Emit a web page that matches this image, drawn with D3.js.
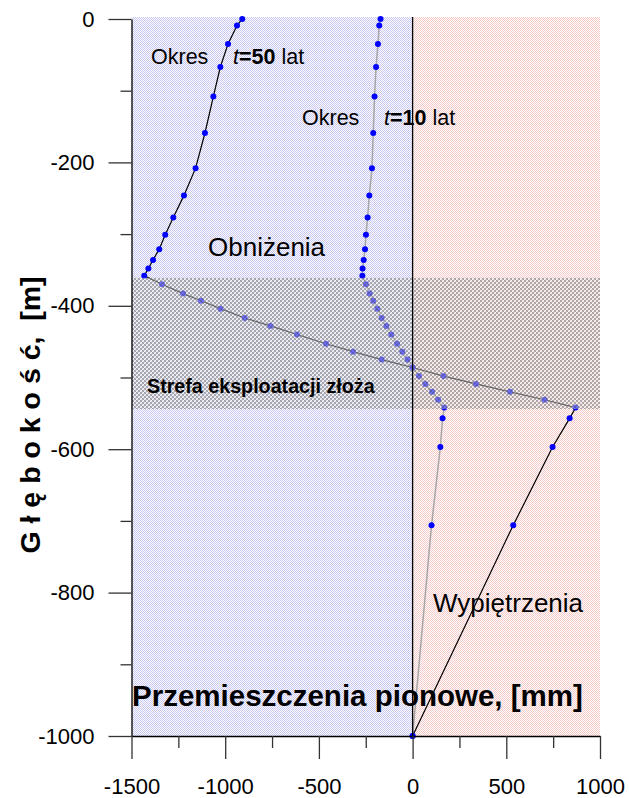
<!DOCTYPE html>
<html>
<head>
<meta charset="utf-8">
<script src="https://cdn.jsdelivr.net/npm/d3@7"></script>
<style>
  html, body { margin: 0; padding: 0; background: #fff; }
  svg { display: block; font-family: "Liberation Sans", Arial, sans-serif; }
</style>
</head>
<body>
<svg id="chart" width="629" height="798"></svg>
<script>
// Depth of the sampled levels [m]
const depth = [0, -9, -35, -67, -108, -159, -208, -246, -277, -301, -321, -336, -348, -358,
  -370, -383, -393, -404, -417, -428, -440, -453, -464, -475, -486, -498, -509, -520, -531, -542,
  -557, -597, -706, -1000];

// Vertical displacement after 50 years [mm]
const t50 = [-909, -937, -985, -1026, -1063, -1108, -1158, -1220, -1277, -1320, -1352, -1385, -1410, -1432,
  -1337, -1225, -1129, -1025, -896, -759, -617, -462, -318, -165, 0, 165, 338, 520, 704, 870,
  838, 747, 537, 0];

// Vertical displacement after 10 years [mm]
const t10 = [-171, -178, -185, -195, -203, -210, -217, -231, -240, -249, -254, -261, -267, -268,
  -249, -229, -210, -188, -165, -140, -114, -83, -55, -27, 0, 34, 68, 104, 136, 169,
  160, 148, 101, 0];

// Extent of the exploited deposit zone [m]
const zone = [-544, -361];

const xMajor = [-1500, -1000, -500, 0, 500, 1000];
const xMinor = [-1250, -750, -250, 250, 750];
const yMajor = [0, -200, -400, -600, -800, -1000];
const yMinor = [-100, -300, -500, -700, -900];

const svg = d3.select("#chart");
const x = d3.scaleLinear().domain([-1500, 1000]).range([131.5, 600]);
const y = d3.scaleLinear().domain([-1000, 0]).range([736, 19]);

// Background textures: fine dotted fills for subsidence / uplift halves
const defs = svg.append("defs");
function dots(id, col) {
  const p = defs.append("pattern").attr("id", id).attr("patternUnits", "userSpaceOnUse")
    .attr("width", 2).attr("height", 2);
  p.append("rect").attr("width", 2).attr("height", 2).attr("fill", "#fff");
  p.append("rect").attr("x", 0).attr("y", 0).attr("width", 1).attr("height", 1).attr("fill", col);
  p.append("rect").attr("x", 1).attr("y", 1).attr("width", 1).attr("height", 1).attr("fill", col);
}
dots("bgNeg", "#c6c6f0");
dots("bgPos", "#f7caca");

// Cross-hatch for the deposit zone
const hatch = defs.append("pattern").attr("id", "hatch").attr("patternUnits", "userSpaceOnUse")
  .attr("width", 4).attr("height", 4);
hatch.append("rect").attr("x", 0).attr("y", 0).attr("width", 2).attr("height", 2).attr("fill", "#8a8a8a").attr("opacity", 0.68);
hatch.append("rect").attr("x", 2).attr("y", 2).attr("width", 2).attr("height", 2).attr("fill", "#8a8a8a").attr("opacity", 0.68);
hatch.append("rect").attr("x", 2).attr("y", 0).attr("width", 2).attr("height", 2).attr("fill", "#f0f0f0").attr("opacity", 0.45);
hatch.append("rect").attr("x", 0).attr("y", 2).attr("width", 2).attr("height", 2).attr("fill", "#f0f0f0").attr("opacity", 0.45);

const plotTop = y(0) - 2;
svg.append("rect").attr("x", x(-1500)).attr("y", plotTop)
  .attr("width", x(0) - x(-1500)).attr("height", y(-1000) - plotTop).attr("fill", "url(#bgNeg)");
svg.append("rect").attr("x", x(0)).attr("y", plotTop)
  .attr("width", x(1000) - x(0)).attr("height", y(-1000) - plotTop).attr("fill", "url(#bgPos)");

// Profiles
const pts = (vals) => depth.map((d, i) => [vals[i], d]);
const line = d3.line().x(d => x(d[0])).y(d => y(d[1]));

svg.append("path").attr("d", line(pts(t10))).attr("fill", "none")
  .attr("stroke", "#a6a6a6").attr("stroke-width", 1.5);
svg.append("path").attr("d", line(pts(t50))).attr("fill", "none")
  .attr("stroke", "#000").attr("stroke-width", 1.2);

[t10, t50].forEach(vals => {
  svg.append("g").selectAll("circle").data(pts(vals)).join("circle")
    .attr("cx", d => x(d[0])).attr("cy", d => y(d[1])).attr("r", 3).attr("fill", "#0000ff");
});

// Deposit zone overlay
svg.append("rect").attr("x", x(-1500)).attr("y", y(zone[1]))
  .attr("width", x(1000) - x(-1500)).attr("height", y(zone[0]) - y(zone[1]))
  .attr("fill", "url(#hatch)");

// Zero line
svg.append("line").attr("x1", x(0)).attr("x2", x(0)).attr("y1", plotTop).attr("y2", y(-1000))
  .attr("stroke", "#000").attr("stroke-width", 1.3);

// Axes
const fmt = d => String(d);
svg.append("g").attr("transform", `translate(${x(-1500)},0)`)
  .call(d3.axisLeft(y).tickValues(yMajor).tickSize(23).tickSizeOuter(0).tickPadding(14).tickFormat(fmt));
svg.append("g").attr("transform", `translate(${x(-1500)},0)`)
  .call(d3.axisLeft(y).tickValues(yMinor).tickSize(11).tickSizeOuter(0).tickFormat(""))
  .call(g => g.select(".domain").remove());
svg.append("g").attr("transform", `translate(0,${y(-1000)})`)
  .call(d3.axisBottom(x).tickValues(xMajor).tickSize(23).tickSizeOuter(0).tickPadding(19).tickFormat(fmt));
svg.append("g").attr("transform", `translate(0,${y(-1000)})`)
  .call(d3.axisBottom(x).tickValues(xMinor).tickSize(12).tickSizeOuter(0).tickFormat(""))
  .call(g => g.select(".domain").remove());

svg.selectAll(".tick line").attr("stroke", "#333").attr("stroke-width", 1.3);
svg.selectAll(".domain").attr("stroke", "#000").attr("stroke-width", 1.3);
svg.selectAll(".tick text").attr("font-size", 22).attr("fill", "#000")
  .attr("font-family", "'Liberation Sans', Arial, sans-serif");

// Annotations
function label(tx, ty, size, parts) {
  const t = svg.append("text").attr("x", tx).attr("y", ty).attr("font-size", size).attr("fill", "#000");
  parts.forEach(p => {
    const s = t.append("tspan").text(p.s);
    if (p.x !== undefined) s.attr("x", p.x);
    if (p.b) s.attr("font-weight", "bold");
    if (p.i) s.attr("font-style", "italic");
  });
  return t;
}
label(151, 64, 21.5, [{s: "Okres"}, {s: "t", i: true, x: 233}, {s: "=50", b: true}, {s: " lat"}]);
label(302, 125, 21.5, [{s: "Okres"}, {s: "t", i: true, x: 384}, {s: "=10", b: true}, {s: " lat"}]);
label(208, 256, 26, [{s: "Obniżenia"}]);
label(433, 612, 26, [{s: "Wypiętrzenia"}]);
label(147, 393, 19.7, [{s: "Strefa eksploatacji złoża", b: true}]);
label(132, 706, 29.5, [{s: "Przemieszczenia pionowe, [mm]", b: true}]);

svg.append("text")
  .attr("transform", "translate(40,415) rotate(-90)")
  .attr("text-anchor", "middle").attr("font-size", 28.5).attr("font-weight", "bold")
  .style("white-space", "pre")
  .text("G ł ę b o k o ś ć,  [m]");
</script>
</body>
</html>
